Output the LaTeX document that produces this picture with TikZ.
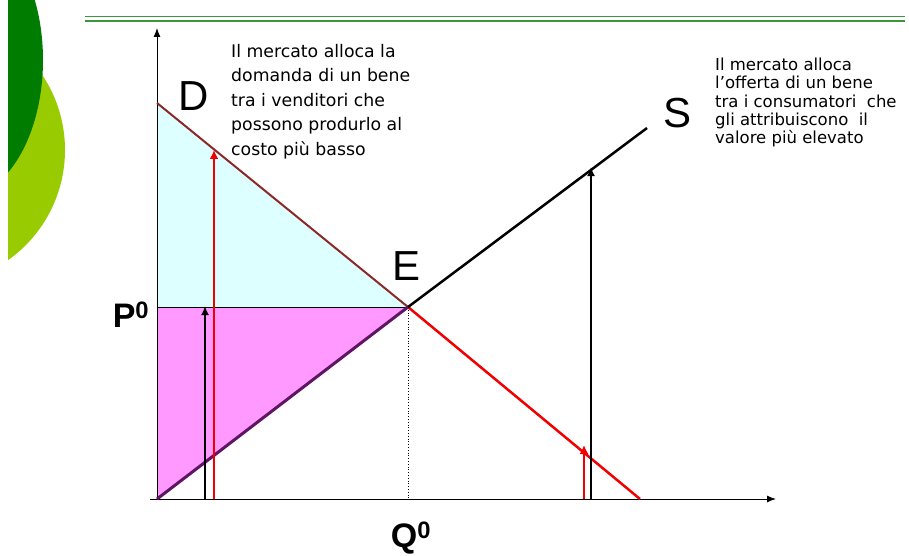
\documentclass[tikz,border=0pt]{standalone}
\usepackage{fontspec}
\setmainfont{Liberation Sans}
\newfontfamily\notefont{DejaVu Sans}
\usetikzlibrary{arrows.meta}
\definecolor{dkgreen}{RGB}{0,125,0}
\definecolor{ltgreen}{RGB}{153,204,0}
\definecolor{barline}{RGB}{60,150,60}
\definecolor{cyanfill}{RGB}{222,255,255}
\definecolor{pinkfill}{RGB}{255,153,255}
\definecolor{dline}{RGB}{140,40,40}
\definecolor{sline}{RGB}{95,20,100}
\definecolor{redline}{RGB}{240,0,0}
\tikzset{
  axis/.style={line width=1pt,-{Latex[length=9pt,width=7pt]}},
  redarrow/.style={redline,line width=2.5pt,-{Latex[length=9pt,width=9pt]}},
  blkarrow/.style={black,line width=1.8pt,-{Latex[length=9pt,width=8pt]}},
  biglab/.style={font=\fontsize{42}{42}\selectfont,inner sep=0pt},
  qlab/.style={font=\fontsize{34}{34}\selectfont\bfseries,inner sep=0pt},
  note/.style={align=left,inner sep=0pt,anchor=north west}
}
\begin{document}
\begin{tikzpicture}[x=1pt,y=-1pt]
\useasboundingbox (0,0) rectangle (909,556);
% decorative circles
\begin{scope}
\clip (8,0) rectangle (200,300);
\fill[ltgreen] (-70,150) circle (135);
\fill[dkgreen] (-40,60) ellipse (83 and 138);
\end{scope}
% top bar
\draw[barline,line width=1.8pt] (85,16.5) -- (905,16.5);
\draw[barline,line width=1.8pt] (85,21) -- (905,21);
% key points
\coordinate (O) at (157,499);
\coordinate (Dtop) at (157,103);
\coordinate (E) at (408,307);
\coordinate (P0) at (157,307);
\coordinate (Q0) at (408,499);
\coordinate (Dend) at (640,499);
\coordinate (Send) at (647,128);
\coordinate (Ytip) at (157,28);
\coordinate (Xstart) at (150,499);
\coordinate (Xtip) at (776,499);
% fills
\fill[cyanfill] (Dtop) -- (E) -- (P0) -- cycle;
\fill[pinkfill] (P0) -- (E) -- (O) -- cycle;
% axes
\draw[axis] (O) -- (Ytip);
\draw[axis] (Xstart) -- (Xtip);
% P0 line and dotted guide
\draw[line width=1pt] (P0) -- (E);
\draw[dotted,line width=0.8pt] (E) -- (Q0);
% curves
\draw[dline,line width=2pt] (Dtop) -- (E);
\draw[redline,line width=2.5pt] (E) -- (Dend);
\draw[sline,line width=3pt] (O) -- (E);
\draw[black,line width=2.5pt] (E) -- (Send);
% vertical arrows
\coordinate (a1) at (214,499); \coordinate (a1t) at (214,150);
\coordinate (a2) at (205,499); \coordinate (a2t) at (205,306);
\coordinate (a3) at (584,499); \coordinate (a3t) at (584,445);
\coordinate (a4) at (591,499); \coordinate (a4t) at (591,167);
\draw[blkarrow] (a2) -- (a2t);
\draw[redarrow] (a1) -- (a1t);
\draw[redarrow] (a3) -- (a3t);
\draw[blkarrow] (a4) -- (a4t);
% labels
\node[biglab] (labD) at (194,96) {D};
\node[biglab] (labS) at (677,113) {S};
\node[biglab] (labE) at (407,266) {E};
\node[qlab] (labP) at (131,315) {P\textsuperscript{0}};
\node[qlab] (labQ) at (411,538) {Q\textsuperscript{0}};
% notes
\node[note,font=\notefont\fontsize{17.3}{24.5}\selectfont] (note1) at (231,44)
  {Il mercato alloca la\\domanda di un bene\\tra i venditori che\\possono produrlo al\\costo più basso};
\node[note,font=\notefont\fontsize{16.5}{18.2}\selectfont] (note2) at (715,58)
  {Il mercato alloca\\l’offerta di un bene\\tra i consumatori\ \ che\\gli attribuiscono\ \ il\\valore più elevato};
\end{tikzpicture}
\end{document}
